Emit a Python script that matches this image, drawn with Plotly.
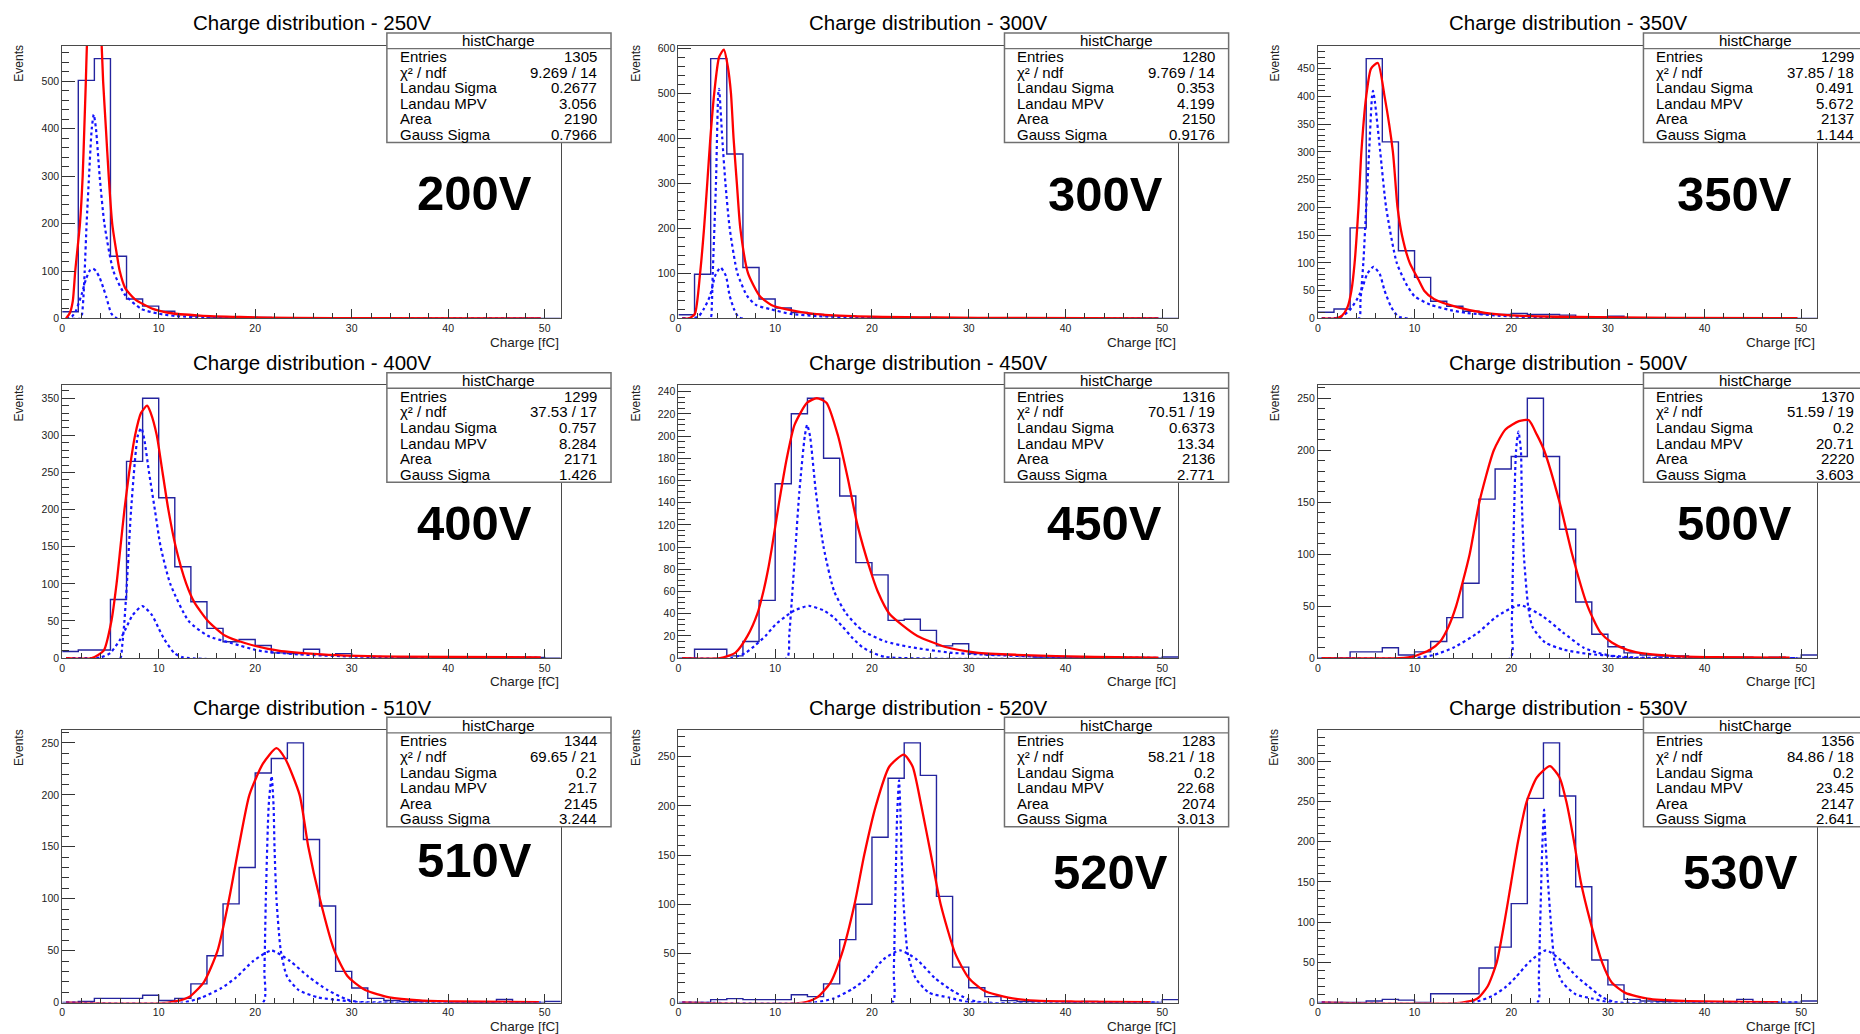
import plotly.graph_objects as go

# ---------------- data ----------------
bin_width = 5.0 / 3.0
n_bins = 31

title_voltages = ["250V", "300V", "350V", "400V", "450V", "500V", "510V", "520V", "530V"]
big_labels = ["200V", "300V", "350V", "400V", "450V", "500V", "510V", "520V", "530V"]
entries = ["1305", "1280", "1299", "1299", "1316", "1370", "1344", "1283", "1356"]
chi2_ndf = ["9.269 / 14", "9.769 / 14", "37.85 / 18", "37.53 / 17", "70.51 / 19",
            "51.59 / 19", "69.65 / 21", "58.21 / 18", "84.86 / 18"]
landau_sigma = ["0.2677", "0.353", "0.491", "0.757", "0.6373", "0.2", "0.2", "0.2", "0.2"]
landau_mpv = ["3.056", "4.199", "5.672", "8.284", "13.34", "20.71", "21.7", "22.68", "23.45"]
area = ["2190", "2150", "2137", "2171", "2136", "2220", "2145", "2074", "2147"]
gauss_sigma = ["0.7966", "0.9176", "1.144", "1.426", "2.771", "3.603", "3.244", "3.013", "2.641"]

y_major = [100, 100, 50, 50, 20, 50, 50, 50, 50]
y_minor = [20, 20, 10, 10, 5, 10, 10, 10, 10]

hist_250V = [14, 502, 548, 131, 41, 26, 15, 8, 5, 3, 3, 2, 2, 1, 1, 1, 0, 0, 0, 1, 0, 0, 0, 0, 0, 0, 0, 0, 0, 0, 0]
hist_300V = [8, 98, 577, 365, 113, 43, 23, 13, 9, 6, 5, 4, 3, 3, 2, 2, 1, 1, 1, 1, 0, 1, 0, 0, 0, 0, 0, 0, 0, 0, 0]
hist_350V = [11, 17, 163, 468, 318, 122, 74, 31, 22, 13, 8, 7, 9, 7, 7, 6, 2, 2, 4, 1, 1, 1, 0, 1, 0, 0, 0, 0, 0, 0, 0]
hist_400V = [9, 11, 11, 79, 265, 350, 216, 123, 76, 40, 22, 25, 17, 7, 6, 12, 4, 6, 3, 2, 2, 1, 2, 1, 1, 2, 1, 1, 1, 1, 0]
hist_450V = [0, 8, 8, 2, 15, 52, 157, 220, 234, 180, 146, 86, 75, 34, 35, 25, 11, 13, 4, 3, 3, 2, 1, 1, 1, 0, 1, 0, 0, 0, 1]
hist_500V = [0, 0, 6, 6, 10, 3, 6, 16, 39, 72, 153, 182, 194, 250, 194, 124, 54, 23, 11, 5, 3, 2, 2, 1, 1, 1, 1, 0, 1, 0, 3]
hist_510V = [0, 1, 4, 4, 4, 7, 2, 4, 18, 45, 95, 130, 221, 235, 250, 157, 93, 30, 14, 4, 2, 1, 1, 1, 0, 0, 0, 3, 0, 0, 1]
hist_520V = [0, 0, 3, 4, 3, 3, 3, 8, 6, 19, 64, 100, 168, 228, 264, 231, 108, 36, 15, 6, 2, 1, 1, 1, 0, 1, 0, 0, 0, 0, 3]
hist_530V = [0, 0, 0, 2, 4, 3, 0, 11, 11, 11, 43, 69, 123, 254, 323, 257, 144, 53, 22, 4, 2, 1, 1, 0, 1, 0, 4, 0, 0, 0, 2]

# total fit (red)
fit_x_250V = [0.4, 0.8, 1.1, 1.35, 1.84, 2.12, 2.29, 2.45, 2.57, 2.9, 3.3, 3.7, 4.08, 4.24, 4.53, 4.82, 5.18, 5.7, 5.96, 6.53, 7.55, 9.4, 11, 14.3, 18.4, 24, 32, 49.6]
fit_y_250V = [0, 12, 37, 100, 200, 300, 400, 500, 580, 690, 730, 690, 580, 500, 400, 300, 200, 130, 100, 64, 40, 20, 12, 6, 3, 1, 0.4, 0.1]
fit_x_300V = [0.4, 1.1, 1.7, 2.24, 2.65, 2.98, 3.3, 3.7, 4.2, 4.7, 5.1, 5.43, 5.7, 6.04, 6.4, 7.2, 8.4, 9.6, 11.2, 14, 18, 26.7, 35, 49.6]
fit_y_300V = [0, 0, 10, 100, 200, 300, 400, 500, 580, 597, 560, 500, 400, 300, 200, 100, 50, 30, 20, 10, 5, 2, 1, 0.3]
fit_x_350V = [0.4, 1.84, 2.5, 3.06, 3.47, 3.8, 4.2, 4.5, 5.0, 5.5, 6.2, 6.9, 7.76, 8.24, 8.7, 9.5, 10.4, 11.0, 12.0, 14.5, 17.3, 20.6, 24.7, 37, 49.6]
fit_y_350V = [0, 0, 5, 20, 50, 100, 200, 300, 400, 450, 460, 400, 300, 200, 150, 100, 70, 50, 35, 20, 10, 5, 3, 1, 0.5]
fit_x_400V = [0.4, 3.06, 4.3, 5.1, 5.63, 6.04, 6.45, 6.94, 7.55, 8.16, 8.8, 9.18, 9.8, 10.4, 11.0, 11.76, 12.86, 13.7, 15.1, 16.9, 19.0, 22.4, 26.9, 30.6, 34.7, 49.6]
fit_y_400V = [0, 0, 10, 50, 100, 150, 200, 250, 300, 330, 340, 330, 300, 250, 200, 150, 100, 75, 50, 30, 20, 10, 5, 3, 2, 1]
fit_x_450V = [0.4, 4.3, 5.9, 7.14, 8.16, 8.78, 9.27, 9.67, 10.4, 11.2, 12.0, 13.3, 14.3, 15.3, 16.5, 17.55, 18.5, 19.8, 20.6, 21.8, 23.1, 24.7, 27.6, 30.8, 34.9, 43, 49.6]
fit_y_450V = [0, 0, 5, 20, 40, 60, 80, 100, 140, 180, 210, 230, 234, 230, 200, 160, 120, 80, 60, 40, 30, 20, 10, 5, 3, 1, 0.5]
fit_x_500V = [0.4, 8.4, 10, 11.6, 12.65, 13.5, 14.3, 15.7, 16.7, 18.2, 19.4, 20.8, 21.8, 22.65, 23.4, 25.0, 26.3, 27.9, 29.2, 30.4, 32, 34.1, 36.9, 41, 48.8]
fit_y_500V = [0, 0, 2, 8, 16, 30, 50, 100, 150, 200, 220, 228, 229, 215, 200, 150, 100, 50, 25, 15, 8, 4, 2, 1, 0.5]
fit_x_510V = [0.4, 11, 13.1, 14.7, 16.1, 17.3, 18.3, 19.4, 20.8, 22.2, 23.1, 24.6, 25.5, 26.7, 28.2, 29.6, 31.4, 33.9, 37.1, 40.8, 49.4]
fit_y_510V = [0, 0, 5, 20, 50, 100, 150, 200, 230, 245, 235, 200, 150, 100, 50, 25, 12, 5, 2, 1, 0.3]
fit_x_520V = [0.4, 12.9, 14.3, 15.7, 16.9, 18.2, 19.2, 20.4, 21.8, 23.3, 24.2, 25.1, 26.1, 27.1, 28.6, 30.0, 31.6, 34.1, 36.9, 41, 48.8]
fit_y_520V = [0, 0, 5, 20, 50, 100, 150, 200, 240, 252, 240, 200, 150, 100, 50, 25, 12, 5, 2, 1, 0.3]
fit_x_530V = [0.4, 14.9, 16.5, 17.55, 18.5, 19.3, 20.0, 20.7, 21.6, 22.65, 24.0, 25.0, 25.7, 26.5, 27.2, 28.2, 29.4, 30.4, 31.8, 34.1, 37.8, 47.6]
fit_y_530V = [0, 0, 5, 20, 50, 100, 150, 200, 250, 280, 294, 280, 250, 200, 150, 100, 50, 25, 12, 5, 2, 0.5]

# Landau component (blue dotted)
landau_x_250V = [0.4, 1.9, 2.05, 2.2, 2.33, 2.53, 2.78, 3.06, 3.27, 3.5, 3.88, 4.37, 5.3, 6.5, 8.2, 10, 11.8, 15, 20, 49.6]
landau_y_250V = [0, 0, 8, 45, 100, 200, 300, 400, 430, 400, 300, 200, 100, 50, 20, 10, 5, 2, 1, 0]
landau_x_300V = [0.4, 3.3, 3.45, 3.55, 3.88, 4.12, 4.2, 4.53, 4.86, 5.3, 6.1, 7.1, 8.0, 9.6, 11.6, 14.5, 18.6, 25, 49.6]
landau_y_300V = [0, 0, 30, 100, 300, 500, 510, 400, 300, 200, 100, 50, 30, 20, 10, 5, 2, 0.5, 0]
landau_x_350V = [0.4, 4.25, 4.4, 4.7, 5.0, 5.3, 5.6, 5.7, 5.9, 6.45, 7.06, 8.16, 9.2, 10, 11.6, 13.7, 15.3, 18.6, 22.7, 30, 49.6]
landau_y_350V = [0, 0, 30, 100, 200, 300, 400, 410, 390, 300, 200, 100, 60, 40, 25, 15, 10, 5, 2, 0.5, 0]
landau_x_400V = [0.4, 6.0, 6.2, 6.45, 6.7, 7.14, 7.84, 8.2, 8.5, 9.0, 9.6, 10.2, 11.2, 13.1, 15.1, 17.6, 20.4, 24.5, 30.6, 38.8, 49.6]
landau_y_400V = [0, 0, 15, 50, 100, 200, 300, 310, 295, 250, 200, 150, 100, 50, 30, 20, 10, 5, 2, 1, 0.5]
landau_x_450V = [0.4, 11.2, 11.45, 11.7, 12.1, 12.5, 13.06, 13.3, 13.6, 14.2, 15.0, 16.1, 17.35, 19.0, 21.4, 23.9, 28, 32, 39, 49.6]
landau_y_450V = [0, 0, 20, 50, 100, 150, 200, 210, 200, 150, 100, 60, 40, 25, 15, 10, 5, 3, 1, 0.3]
landau_x_500V = [0.4, 19.9, 20.05, 20.2, 20.5, 20.75, 21.0, 21.1, 21.3, 21.75, 22.2, 23.5, 25.5, 28, 30.8, 33, 49.6]
landau_y_500V = [0, 0, 30, 100, 200, 218, 200, 150, 100, 50, 30, 15, 8, 4, 2, 0.5, 0]
landau_x_510V = [0.4, 20.8, 20.95, 21.1, 21.4, 21.7, 21.9, 22.0, 22.2, 22.65, 23.3, 24.5, 26.5, 29, 30.6, 49.6]
landau_y_510V = [0, 0, 30, 100, 190, 218, 190, 150, 100, 50, 25, 12, 5, 2, 0.5, 0]
landau_x_520V = [0.4, 22.1, 22.25, 22.4, 22.6, 22.8, 22.95, 23.06, 23.27, 23.7, 24.5, 25.9, 28, 30, 49.6]
landau_y_520V = [0, 0, 30, 100, 190, 226, 190, 150, 100, 50, 25, 10, 5, 0.5, 0]
landau_x_530V = [0.4, 22.7, 22.85, 23.0, 23.2, 23.4, 23.55, 23.8, 24.1, 24.5, 25.3, 26.7, 28.4, 30, 49.6]
landau_y_530V = [0, 0, 30, 100, 190, 240, 200, 150, 100, 50, 25, 10, 5, 0.5, 0]

# Gauss component (blue dotted)
gauss_x_250V = [0.4, 1.0, 1.4, 2.0, 2.5, 2.9, 3.2, 3.5, 3.9, 4.3, 4.57, 5.1, 5.6, 49.6]
gauss_y_250V = [0, 4, 15, 50, 85, 102, 105, 100, 85, 62, 45, 10, 1, 0]
gauss_x_300V = [0.4, 2.0, 2.6, 3.27, 3.8, 4.35, 4.9, 5.3, 5.8, 6.3, 49.6]
gauss_y_300V = [0, 3, 20, 50, 95, 113, 95, 50, 18, 2, 0]
gauss_x_350V = [0.4, 2.3, 3.3, 4.0, 4.5, 5.1, 5.75, 6.4, 6.9, 7.6, 8.4, 49.6]
gauss_y_350V = [0, 2, 15, 33, 50, 80, 93, 80, 50, 20, 3, 0]
gauss_x_400V = [0.4, 4.0, 5.0, 6.0, 6.6, 7.3, 8.3, 9.3, 10.0, 10.6, 11.6, 12.5, 49.6]
gauss_y_400V = [0, 1, 7, 25, 40, 58, 70, 58, 40, 25, 7, 1, 0]
gauss_x_450V = [0.4, 5.5, 7.0, 8.0, 9.0, 10.0, 11.0, 12.0, 13.5, 15.0, 16.0, 17.0, 18.0, 19.0, 20.0, 21.4, 49.6]
gauss_y_450V = [0, 0, 5, 12, 20, 30, 37, 43, 47, 43, 37, 28, 18, 10, 5, 1, 0]
gauss_x_500V = [0.4, 10, 12, 14, 16.5, 18.5, 20.9, 23.3, 25.3, 27.5, 29, 31, 32.5, 49.6]
gauss_y_500V = [0, 0, 3, 10, 24, 40, 51, 40, 25, 10, 5, 1, 0, 0]
gauss_x_510V = [0.4, 12.5, 14.5, 16.5, 18.0, 19.8, 21.7, 23.6, 25.5, 27.5, 29.5, 31, 49.6]
gauss_y_510V = [0, 0, 5, 14, 24, 40, 50, 40, 25, 12, 3, 0, 0]
gauss_x_520V = [0.4, 14, 16, 18, 19.5, 21.2, 22.9, 24.6, 26.5, 28, 30, 31.5, 49.6]
gauss_y_520V = [0, 0, 4, 14, 25, 44, 53, 44, 25, 14, 3, 0, 0]
gauss_x_530V = [0.4, 16, 18, 19.5, 20.5, 22, 23.6, 25.2, 26.8, 28, 29.5, 31, 49.6]
gauss_y_530V = [0, 0, 8, 20, 32, 52, 65, 52, 32, 20, 6, 0, 0]

hists = [hist_250V, hist_300V, hist_350V, hist_400V, hist_450V, hist_500V, hist_510V, hist_520V, hist_530V]
fits = [(fit_x_250V, fit_y_250V), (fit_x_300V, fit_y_300V), (fit_x_350V, fit_y_350V),
        (fit_x_400V, fit_y_400V), (fit_x_450V, fit_y_450V), (fit_x_500V, fit_y_500V),
        (fit_x_510V, fit_y_510V), (fit_x_520V, fit_y_520V), (fit_x_530V, fit_y_530V)]
landaus = [(landau_x_250V, landau_y_250V), (landau_x_300V, landau_y_300V), (landau_x_350V, landau_y_350V),
           (landau_x_400V, landau_y_400V), (landau_x_450V, landau_y_450V), (landau_x_500V, landau_y_500V),
           (landau_x_510V, landau_y_510V), (landau_x_520V, landau_y_520V), (landau_x_530V, landau_y_530V)]
gausses = [(gauss_x_250V, gauss_y_250V), (gauss_x_300V, gauss_y_300V), (gauss_x_350V, gauss_y_350V),
           (gauss_x_400V, gauss_y_400V), (gauss_x_450V, gauss_y_450V), (gauss_x_500V, gauss_y_500V),
           (gauss_x_510V, gauss_y_510V), (gauss_x_520V, gauss_y_520V), (gauss_x_530V, gauss_y_530V)]

# ---------------- layout geometry (pixels) ----------------
W, H = 1860, 1034
col_left = [59.3, 676.5, 1317.0]
col_right = [558.7, 1177.3, 1817.3]
row_top = [42.0, 385.0, 733.0]
row_bottom = [317.5, 660.5, 1008.3]
title_y = [18.3, 361.7, 710.0]
events_x = [15.8, 633.8, 1273.6]
label_pos = [(472.5, 190.5), (1104, 191.5), (1734.5, 191.5),
             (472.5, 524.5), (1103.5, 524.5), (1734.5, 524.5),
             (472.5, 864.5), (1109, 876.5), (1740, 876.5)]

FONT = "Liberation Sans, Arial, Helvetica, sans-serif"
HIST_C = "#24249e"
DOT_C = "#1414ff"
RED_C = "#ff0000"
AX_C = "#4a4a4a"


def fx(px):
    return px / W


def fy(py):
    return 1 - py / H


fig = go.Figure()
annotations = []
shapes = []
layout_axes = {}

edges = [k * bin_width for k in range(n_bins + 1)]
x_max = edges[-1]

for i in range(9):
    r, c = divmod(i, 3)
    n = i + 1
    xa = "x" if n == 1 else f"x{n}"
    ya = "y" if n == 1 else f"y{n}"
    L, R, T, B = col_left[c], col_right[c], row_top[r], row_bottom[r]

    vals = hists[i]
    ymax = 1.05 * max(vals)

    # histogram as step outline
    fig.add_trace(go.Scatter(x=edges, y=vals + [vals[-1]], mode="lines",
                             line=dict(shape="hv", color=HIST_C, width=1.4),
                             xaxis=xa, yaxis=ya, hoverinfo="skip"))
    gx, gy = gausses[i]
    fig.add_trace(go.Scatter(x=gx, y=gy, mode="lines",
                             line=dict(shape="spline", smoothing=0.6, color=DOT_C, width=2.2, dash="dot"),
                             xaxis=xa, yaxis=ya, hoverinfo="skip"))
    lx, ly = landaus[i]
    fig.add_trace(go.Scatter(x=lx, y=ly, mode="lines",
                             line=dict(shape="spline", smoothing=0.6, color=DOT_C, width=2.2, dash="dot"),
                             xaxis=xa, yaxis=ya, hoverinfo="skip"))
    fxs, fys = fits[i]
    fig.add_trace(go.Scatter(x=fxs, y=fys, mode="lines",
                             line=dict(shape="spline", smoothing=0.6, color=RED_C, width=2.3),
                             xaxis=xa, yaxis=ya, hoverinfo="skip"))

    tickfont = dict(family=FONT, size=10.5, color="#222")
    layout_axes["xaxis" if n == 1 else f"xaxis{n}"] = dict(
        domain=[fx(L), fx(R)], range=[0, x_max], anchor=ya,
        showline=True, mirror=True, linecolor=AX_C, linewidth=1,
        showgrid=False, zeroline=False,
        ticks="inside", ticklen=9, tickwidth=1, tickcolor="#333",
        tick0=0, dtick=10, tickfont=tickfont,
        minor=dict(ticks="inside", dtick=2, ticklen=5, tickcolor="#333", showgrid=False),
        fixedrange=True)
    layout_axes["yaxis" if n == 1 else f"yaxis{n}"] = dict(
        domain=[fy(B), fy(T)], range=[0, ymax], anchor=xa,
        showline=True, mirror=True, linecolor=AX_C, linewidth=1,
        showgrid=False, zeroline=False,
        ticks="inside", ticklen=13, tickwidth=1, tickcolor="#333",
        tick0=0, dtick=y_major[i], tickfont=tickfont,
        minor=dict(ticks="inside", dtick=y_minor[i], ticklen=7, tickcolor="#333", showgrid=False),
        fixedrange=True)

    # title
    annotations.append(dict(text=f"Charge distribution - {title_voltages[i]}",
                            x=fx((L + R) / 2), y=fy(title_y[r]), xref="paper", yref="paper",
                            xanchor="center", yanchor="middle", showarrow=False,
                            font=dict(family=FONT, size=20.5, color="#000")))
    # axis titles
    annotations.append(dict(text="Charge [fC]", x=fx(R), y=fy(B + 24), xref="paper", yref="paper",
                            xanchor="right", yanchor="middle", showarrow=False,
                            font=dict(family=FONT, size=13.5, color="#222")))
    annotations.append(dict(text="Events", x=fx(events_x[c]), y=fy(T + 17.5), xref="paper", yref="paper",
                            xanchor="center", yanchor="middle", showarrow=False, textangle=-90,
                            font=dict(family=FONT, size=12, color="#222")))
    # big label
    lx_, ly_ = label_pos[i]
    annotations.append(dict(text=big_labels[i], x=fx(lx_), y=fy(ly_), xref="paper", yref="paper",
                            xanchor="center", yanchor="middle", showarrow=False,
                            font=dict(family=FONT, size=49, color="#000", weight="bold")))

    # stats box
    bl, br = R - 174.2, R + 50.3
    bt = T - 12.7
    bb = bt + 110.5
    div_y = bt + 15.7
    shapes.append(dict(type="rect", xref="paper", yref="paper", x0=fx(bl), x1=fx(br), y0=fy(bb), y1=fy(bt),
                       fillcolor="white", line=dict(color="#707070", width=1.5), layer="above"))
    shapes.append(dict(type="line", xref="paper", yref="paper", x0=fx(bl), x1=fx(br), y0=fy(div_y), y1=fy(div_y),
                       line=dict(color="#707070", width=1.3), layer="above"))
    annotations.append(dict(text="histCharge", x=fx((bl + br) / 2),
                            y=fy(bt + 8.0), xref="paper", yref="paper",
                            xanchor="center", yanchor="middle", showarrow=False,
                            font=dict(family=FONT, size=15, color="#000")))
    row_labels = ["Entries", "\u03c7\u00b2 / ndf", "Landau Sigma", "Landau MPV", "Area", "Gauss Sigma"]
    row_vals = [entries[i], chi2_ndf[i], landau_sigma[i], landau_mpv[i], area[i], gauss_sigma[i]]
    step = (bb - div_y) / 6.0
    for k in range(6):
        yy = div_y + step * (k + 0.5)
        annotations.append(dict(text=row_labels[k], x=fx(bl + 10.7), y=fy(yy), xref="paper", yref="paper",
                                xanchor="left", yanchor="middle", showarrow=False,
                                font=dict(family=FONT, size=15, color="#000")))
        annotations.append(dict(text=row_vals[k], x=fx(br - 12), y=fy(yy), xref="paper", yref="paper",
                                xanchor="right", yanchor="middle", showarrow=False,
                                font=dict(family=FONT, size=15, color="#000")))

fig.update_layout(
    width=W, height=H,
    margin=dict(l=0, r=0, t=0, b=0),
    paper_bgcolor="white", plot_bgcolor="white",
    showlegend=False,
    annotations=annotations,
    shapes=shapes,
    font=dict(family=FONT),
    **layout_axes,
)

fig.write_html("out.html")
